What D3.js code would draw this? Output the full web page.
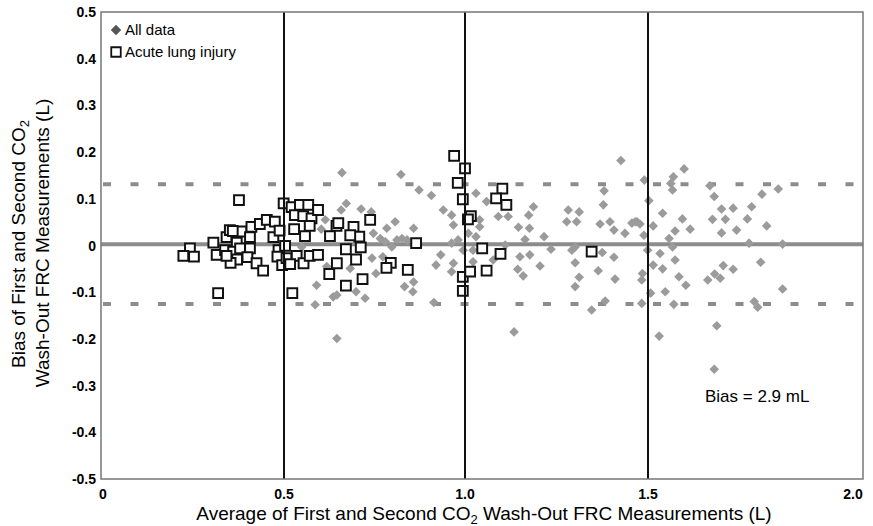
<!DOCTYPE html>
<meta charset="utf-8">
<head>
  <script src="https://cdn.jsdelivr.net/npm/d3@7/dist/d3.min.js"></script>
  <style>
    body { margin: 0; background: #fff; }
    text { font-family: "Liberation Sans", Arial, sans-serif; fill: #000; }
  </style>
</head>
<body>
<script type="text/javascript">

// ticks
var xTicks = [0, 0.5, 1.0, 1.5, 2.0];
var xTickLabels = ["0", "0.5", "1.0", "1.5", "2.0"];
var yTicks = [-0.5, -0.4, -0.3, -0.2, -0.1, 0, 0.1, 0.2, 0.3, 0.4, 0.5];
var yTickLabels = ["-0.5", "-0.4", "-0.3", "-0.2", "-0.1", "0", "0.1", "0.2", "0.3", "0.4", "0.5"];
var refLines = [0.5, 1.0, 1.5];

// bias and limits of agreement (L)
var bias = 0.0029;
var upperLoA = 0.131;
var lowerLoA = -0.125;

// all data: [average, bias]
var allData = [
  [0.614,0.055],[0.603,0.035],[0.59,-0.085],[0.636,-0.11],[0.586,-0.127],[0.618,-0.045],[0.549,-0.003],[0.66,0.156],
  [0.823,0.152],[0.873,0.119],[0.907,0.107],[0.672,0.09],[0.658,0.076],[0.713,0.078],[0.741,0.072],[0.807,0.051],
  [0.858,0.037],[0.784,0.037],[0.747,0.026],[0.766,0.015],[0.798,-0.003],[0.812,0.012],[0.826,0.015],[0.84,0.012],
  [0.78,0.008],[0.743,-0.027],[0.773,-0.024],[0.754,-0.06],[0.683,-0.049],[0.699,-0.099],[0.646,-0.106],[0.724,-0.113],
  [0.833,-0.088],[0.856,-0.099],[0.858,-0.078],[0.92,-0.042],[0.933,-0.02],[0.914,-0.122],[0.646,-0.199],[0.94,0.076],
  [0.963,0.065],[0.968,0.044],[1.03,0.112],[1.059,0.094],[1.091,0.062],[1.04,0.055],[1.04,0.04],[0.963,0.005],
  [0.981,0.012],[0.995,-0.01],[1.009,0.026],[1.022,-0.01],[1.03,0.019],[0.968,-0.038],[0.963,-0.056],[1.022,-0.035],
  [1.11,0.001],[1.426,0.182],[1.118,0.062],[1.187,0.083],[1.174,0.065],[1.146,0.039],[1.176,0.037],[1.216,0.019],
  [1.164,0.013],[1.235,-0.008],[1.15,-0.024],[1.177,-0.02],[1.205,-0.044],[1.144,-0.051],[1.159,-0.065],[1.077,-0.031],
  [1.282,0.076],[1.312,0.072],[1.305,0.051],[1.278,0.051],[1.38,0.117],[1.378,0.087],[1.369,0.046],[1.396,0.051],
  [1.407,0.033],[1.437,0.026],[1.456,0.048],[1.47,0.051],[1.292,-0.01],[1.301,-0.003],[1.375,-0.015],[1.407,-0.025],
  [1.301,-0.037],[1.364,-0.054],[1.312,-0.068],[1.301,-0.088],[1.41,-0.072],[1.383,-0.119],[1.346,-0.138],[1.134,-0.185],
  [1.584,0.164],[1.559,0.147],[1.553,0.133],[1.557,0.119],[1.49,0.14],[1.502,0.096],[1.534,0.069],[1.644,0.128],
  [1.654,0.105],[1.671,0.078],[1.698,0.08],[1.741,0.083],[1.765,0.11],[1.803,0.121],[1.65,0.056],[1.68,0.056],
  [1.731,0.057],[1.776,0.042],[1.671,0.027],[1.706,0.033],[1.58,0.057],[1.598,0.035],[1.563,0.031],[1.512,0.042],
  [1.489,0.022],[1.465,0.051],[1.478,0.046],[1.549,0.015],[1.557,-0.003],[1.735,0.005],[1.813,0.003],[1.499,-0.01],
  [1.528,-0.017],[1.563,-0.031],[1.512,-0.042],[1.534,-0.05],[1.762,-0.036],[1.675,-0.043],[1.698,-0.051],[1.655,-0.061],
  [1.668,-0.07],[1.639,-0.074],[1.572,-0.067],[1.588,-0.085],[1.485,-0.06],[1.483,-0.074],[1.54,-0.099],[1.506,-0.102],
  [1.813,-0.093],[1.483,-0.124],[1.56,-0.126],[1.747,-0.12],[1.755,-0.132],[1.66,-0.172],[1.526,-0.194],[1.654,-0.265]
];

// acute lung injury subset
var aliData = [
  [0.377,0.097],[0.32,-0.102],[0.523,-0.102],[0.243,-0.006],[0.225,-0.022],[0.254,-0.024],[0.307,0.006],[0.316,-0.02],
  [0.343,0.018],[0.352,0.033],[0.371,0.006],[0.384,0.03],[0.36,0.031],[0.339,-0.01],[0.361,-0.013],[0.372,-0.03],
  [0.354,-0.037],[0.343,-0.022],[0.38,-0.006],[0.407,0.018],[0.411,0.04],[0.434,0.046],[0.453,0.055],[0.407,-0.006],
  [0.4,-0.025],[0.425,-0.038],[0.443,-0.054],[0.475,0.051],[0.471,0.018],[0.488,0.032],[0.485,-0.01],[0.482,-0.024],
  [0.499,0.09],[0.503,-0.001],[0.495,-0.042],[0.507,-0.027],[0.521,0.082],[0.544,0.087],[0.567,0.087],[0.53,0.065],
  [0.553,0.063],[0.576,0.058],[0.594,0.076],[0.571,0.042],[0.528,0.035],[0.558,0.02],[0.535,-0.022],[0.554,-0.038],
  [0.571,-0.022],[0.594,-0.02],[0.517,-0.04],[0.625,-0.061],[0.627,0.02],[0.645,0.042],
  [0.97,0.192],[1.0,0.165],[0.98,0.134],[0.994,0.099],[1.016,0.063],[1.008,0.056],[0.994,-0.067],[0.994,-0.097],
  [1.014,-0.056],[0.738,0.055],[0.865,0.005],[0.842,-0.052],[0.795,-0.037],[0.783,-0.048],[0.717,-0.072],[0.671,-0.086],
  [0.65,0.048],[0.692,0.04],[0.708,0.019],[0.712,-0.004],[0.671,-0.008],[0.699,-0.03],[0.646,-0.038],[0.683,0.022],
  [1.047,-0.006],[1.059,-0.054],[1.097,-0.018],[1.102,0.122],[1.085,0.101],[1.113,0.087],[1.346,-0.013]
];

var w = 873, h = 526;
var pLeft = 101, pRight = 863, pTop = 12, pBottom = 479;

var svg = d3.select("body").append("svg")
    .attr("width", w)
    .attr("height", h);

// the printed axis is not quite even, so map each half-litre segment
var x = d3.scaleLinear()
    .domain(xTicks)
    .range([pLeft, 284, 465, 648, pRight]);

var y = d3.scaleLinear()
    .domain([-0.5, 0.5])
    .range([pBottom, pTop]);

// mean and limits
svg.append("line")
    .attr("x1", pLeft).attr("x2", pRight)
    .attr("y1", y(bias)).attr("y2", y(bias))
    .attr("stroke", "#8c8c8c").attr("stroke-width", 4);

[upperLoA, lowerLoA].forEach(function(v){
  svg.append("line")
    .attr("x1", pLeft + 2).attr("x2", pRight - 4)
    .attr("y1", y(v)).attr("y2", y(v))
    .attr("stroke", "#8c8c8c").attr("stroke-width", 4)
    .attr("stroke-dasharray", "8,19.5");
});

// points
var diamond = d3.symbol().type(d3.symbolSquare).size(46);
svg.append("g").selectAll("path")
  .data(allData)
  .enter()
  .append("path")
  .attr("d", diamond)
  .attr("transform", function(d){ return "translate(" + x(d[0]) + "," + y(d[1]) + ") rotate(45)"; })
  .attr("fill", "#9b9b9b");

var square = d3.symbol().type(d3.symbolSquare).size(96);
svg.append("g").selectAll("path")
  .data(aliData)
  .enter()
  .append("path")
  .attr("d", square)
  .attr("transform", function(d){ return "translate(" + x(d[0]) + "," + y(d[1]) + ")"; })
  .attr("fill", "#fff")
  .attr("stroke", "#111")
  .attr("stroke-width", 2);

// vertical reference lines
svg.selectAll(".ref")
  .data(refLines)
  .enter()
  .append("line")
  .attr("class", "ref")
  .attr("x1", function(d){ return x(d); }).attr("x2", function(d){ return x(d); })
  .attr("y1", pTop).attr("y2", pBottom)
  .attr("stroke", "#111").attr("stroke-width", 2);

// frame
svg.append("rect")
  .attr("x", pLeft).attr("y", pTop)
  .attr("width", pRight - pLeft).attr("height", pBottom - pTop)
  .attr("fill", "none").attr("stroke", "#777").attr("stroke-width", 1.5);

// tick labels
svg.selectAll(".ytick")
  .data(yTicks)
  .enter()
  .append("text")
  .attr("class", "ytick")
  .attr("x", pLeft - 5)
  .attr("y", function(d){ return y(d) + 5; })
  .attr("text-anchor", "end")
  .style("font-size", "14px").style("font-weight", "bold")
  .text(function(d,i){ return yTickLabels[i]; });

svg.selectAll(".xtick")
  .data(xTicks)
  .enter()
  .append("text")
  .attr("class", "xtick")
  .attr("x", function(d,i){ return i == xTicks.length - 1 ? x(d) - 10 : x(d) + (i == 0 ? 2 : 0); })
  .attr("y", pBottom + 20)
  .attr("text-anchor", "middle")
  .style("font-size", "14px").style("font-weight", "bold")
  .text(function(d,i){ return xTickLabels[i]; });

// axis titles
var xt = svg.append("text")
  .attr("x", 484).attr("y", 520)
  .attr("text-anchor", "middle")
  .style("font-size", "19px");
xt.append("tspan").text("Average of First and Second CO");
xt.append("tspan").attr("dy", 4).style("font-size", "13px").text("2");
xt.append("tspan").attr("dy", -4).text(" Wash-Out FRC Measurements (L)");

var yt1 = svg.append("text")
  .attr("transform", "translate(25,244) rotate(-90)")
  .attr("text-anchor", "middle")
  .style("font-size", "19px");
yt1.append("tspan").text("Bias of First and Second CO");
yt1.append("tspan").attr("dy", 4).style("font-size", "13px").text("2");

svg.append("text")
  .attr("transform", "translate(49,243) rotate(-90)")
  .attr("text-anchor", "middle")
  .style("font-size", "19px")
  .text("Wash-Out FRC Measurements (L)");

// legend
svg.append("path")
  .attr("d", d3.symbol().type(d3.symbolSquare).size(55))
  .attr("transform", "translate(116,30) rotate(45)")
  .attr("fill", "#555");
svg.append("text").attr("x", 125).attr("y", 35).style("font-size", "15px").text("All data");

svg.append("path")
  .attr("d", d3.symbol().type(d3.symbolSquare).size(90))
  .attr("transform", "translate(116,52)")
  .attr("fill", "#fff").attr("stroke", "#111").attr("stroke-width", 1.8);
svg.append("text").attr("x", 125).attr("y", 57).style("font-size", "15px").text("Acute lung injury");

svg.append("text").attr("x", 705).attr("y", 402).style("font-size", "17px")
  .text("Bias = " + (bias * 1000).toFixed(1) + " mL");

</script>
</body>
